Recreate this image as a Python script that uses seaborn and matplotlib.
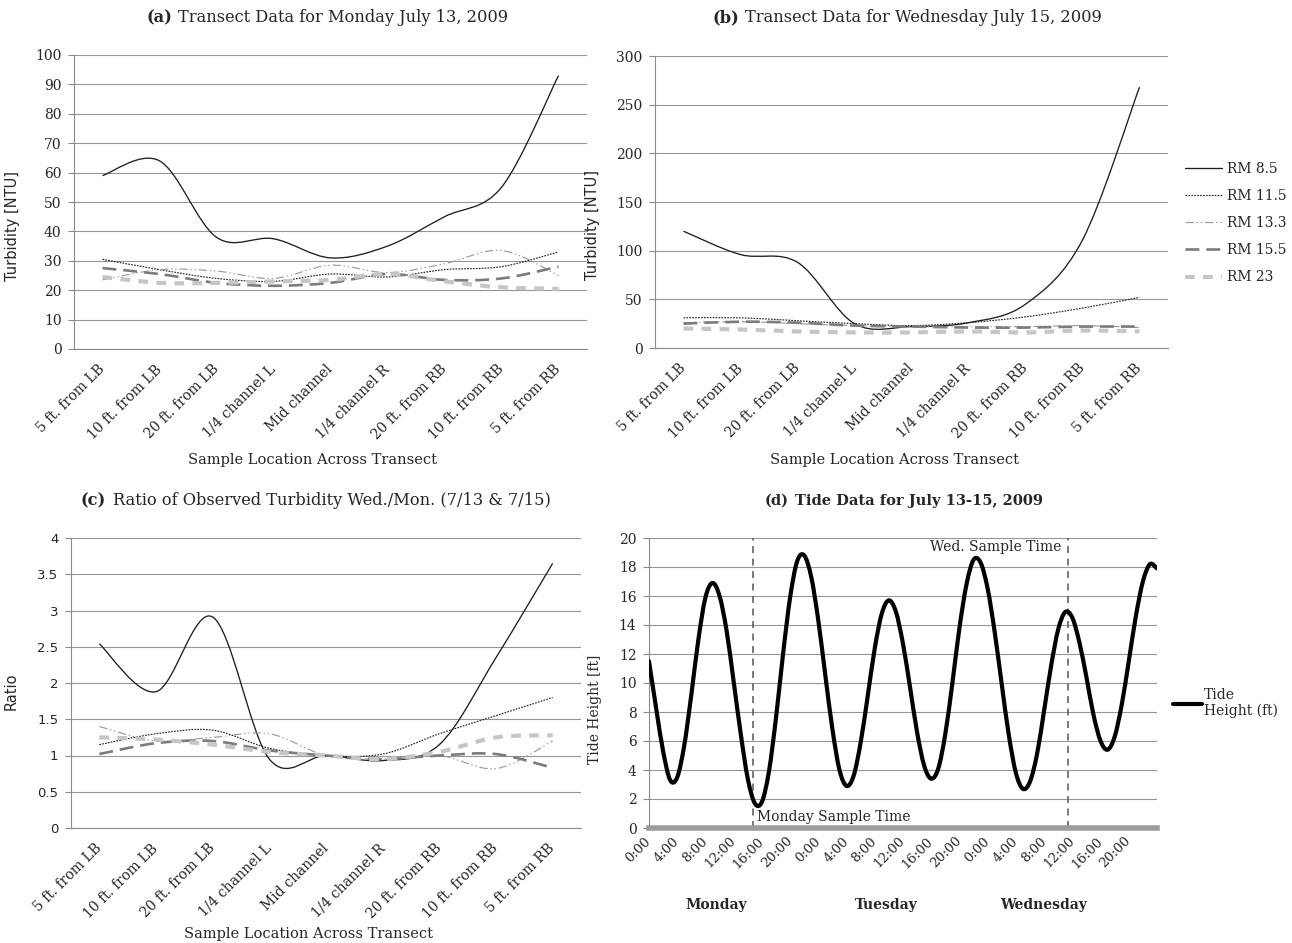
import matplotlib
matplotlib.use("Agg")
import matplotlib.pyplot as plt
import numpy as np
import seaborn as sns
from matplotlib.path import Path
from matplotlib.patches import PathPatch
from matplotlib.lines import Line2D

# ---- data ----
locations = ["5 ft. from LB", "10 ft. from LB", "20 ft. from LB", "1/4 channel L", "Mid channel",
             "1/4 channel R", "20 ft. from RB", "10 ft. from RB", "5 ft. from RB"]
series_names = ["RM 8.5", "RM 11.5", "RM 13.3", "RM 15.5", "RM 23"]

# (a) Monday July 13 turbidity [NTU]
mon_rm85 = [59, 64, 38, 37.5, 31, 35, 45, 55, 93]
mon_rm115 = [30.5, 27, 24, 23, 25.5, 24.5, 27, 28, 33]
mon_rm133 = [23.5, 27, 26.5, 24, 28.5, 26, 29, 33.5, 25]
mon_rm155 = [27.5, 25.5, 22.5, 21.5, 22.5, 25.5, 23.5, 24, 28]
mon_rm23 = [24.5, 22.5, 22.5, 23, 23.5, 25.5, 23, 21, 20.5]

# (b) Wednesday July 15 turbidity [NTU]
wed_rm85 = [120, 96, 88, 25, 22, 26, 45, 111, 268]
wed_rm115 = [31, 31, 28, 25, 23, 26, 32, 41, 52]
wed_rm133 = [26, 27, 25, 23, 22, 22, 22, 23, 21]
wed_rm155 = [25, 27, 26, 23, 22, 21, 21, 22, 22]
wed_rm23 = [20, 19, 17, 16, 16, 17, 16, 18, 17]

# (c) ratio Wed./Mon.
ratio_rm85 = [2.54, 1.88, 2.91, 0.95, 1.0, 0.93, 1.15, 2.35, 3.65]
ratio_rm115 = [1.15, 1.3, 1.35, 1.1, 1.0, 1.02, 1.3, 1.55, 1.8]
ratio_rm133 = [1.4, 1.2, 1.25, 1.3, 1.0, 0.95, 1.0, 0.82, 1.2]
ratio_rm155 = [1.02, 1.17, 1.2, 1.07, 1.0, 0.95, 1.0, 1.02, 0.83]
ratio_rm23 = [1.25, 1.22, 1.15, 1.05, 1.0, 0.95, 1.05, 1.25, 1.28]

# (d) tide height [ft], hourly from Monday 0:00
tide_hours = list(range(73))
tide_ft = [11.5, 8.3, 5.3, 3.3, 3.5, 5.7, 9.2, 13.0, 15.9, 16.9, 16.0, 13.6, 10.1, 6.5, 3.4, 1.7,
           1.8, 3.9, 7.6, 12.0, 15.9, 18.4, 18.8, 17.3, 14.3, 10.5, 6.8, 4.0, 2.9, 3.6, 5.9, 9.1,
           12.4, 14.8, 15.7, 14.9, 12.7, 9.7, 6.6, 4.3, 3.4, 4.1, 6.5, 10.0, 13.8, 16.8, 18.5, 18.3,
           16.5, 13.5, 9.9, 6.4, 3.8, 2.7, 3.2, 5.1, 8.1, 11.2, 13.7, 14.9, 14.5, 12.8, 10.4, 7.8,
           6.0, 5.4, 6.3, 8.5, 11.5, 14.6, 17.0, 18.2, 17.9]
time_labels = ["0:00", "4:00", "8:00", "12:00", "16:00", "20:00"] * 3
day_names = ["Monday", "Tuesday", "Wednesday"]
mon_sample_hr = 14.75
wed_sample_hr = 59.35

# ---- styling ----
sns.set_style("white")
plt.rcParams["font.family"] = ["DejaVu Serif"]
plt.rcParams["lines.scale_dashes"] = False
SANS = ["DejaVu Sans"]
GRID = "#969696"
AX = "#8a8a8a"

styles = {
    "RM 8.5": dict(color="#1e1e1e", lw=0.95, ls="-"),
    "RM 11.5": dict(color="#222222", lw=0.85, ls=(0, (1.2, 0.9))),
    "RM 13.3": dict(color="#9c9c9c", lw=0.85, ls=(0, (6, 2, 1, 2, 1, 2))),
    "RM 15.5": dict(color="#7c7c7c", lw=1.9, ls=(0, (10, 5))),
    "RM 23": dict(color="#c6c6c6", lw=3.0, ls=(0, (7, 6))),
}


def smooth_path(x, y):
    # Excel-style smoothed line as cubic Bezier segments
    x = np.asarray(x, float)
    y = np.asarray(y, float)
    n = len(x)
    verts = [(x[0], y[0])]
    codes = [Path.MOVETO]
    for i in range(n - 1):
        a = max(i - 1, 0)
        b = min(i + 2, n - 1)
        c1 = (x[i] + (x[i + 1] - x[a]) / 6, y[i] + (y[i + 1] - y[a]) / 6)
        c2 = (x[i + 1] - (x[b] - x[i]) / 6, y[i + 1] - (y[b] - y[i]) / 6)
        verts += [c1, c2, (x[i + 1], y[i + 1])]
        codes += [Path.CURVE4] * 3
    return Path(verts, codes)


def transect_panel(ax, data, ymax, ystep, yfam, yfs):
    xs = np.arange(len(locations))
    for name, vals in zip(series_names, data):
        st = styles[name]
        ax.add_patch(PathPatch(smooth_path(xs, vals), fill=False, edgecolor=st["color"],
                               lw=st["lw"], linestyle=st["ls"], capstyle="butt", zorder=3))
    ax.set_xlim(-0.5, len(locations) - 0.5)
    ax.set_ylim(0, ymax)
    ax.set_yticks(np.arange(0, ymax + ystep / 2, ystep))
    ax.set_yticklabels([("%g" % v) for v in np.arange(0, ymax + ystep / 2, ystep)],
                       family=yfam, fontsize=yfs)
    ax.yaxis.grid(True, color=GRID, lw=0.8)
    ax.xaxis.grid(False)
    ax.set_axisbelow(True)
    sns.despine(ax=ax)
    for s in ["left", "bottom"]:
        ax.spines[s].set_color(AX)
        ax.spines[s].set_linewidth(0.8)
    ax.set_xticks(xs)
    ax.set_xticklabels(locations, rotation=45, ha="right", va="center",
                       rotation_mode="anchor", fontsize=10)
    ax.set_xticks(np.arange(-0.5, len(locations), 1), minor=True)
    ax.tick_params(axis="x", which="major", length=0, pad=13)
    ax.tick_params(axis="x", which="minor", length=5, color=AX, width=0.8, direction="out")
    ax.tick_params(axis="y", length=4, color=AX, width=0.8, direction="out", pad=5, left=True)


fig = plt.figure(figsize=(12.92, 9.43), dpi=100)
W, H = 1292.0, 943.0


def px_axes(l, t, r, b):
    return fig.add_axes([l / W, 1 - b / H, (r - l) / W, (b - t) / H])


ax_a = px_axes(74, 55, 587, 349)
ax_b = px_axes(655, 56, 1168, 348)
ax_c = px_axes(71, 538, 581, 828)
ax_d = px_axes(649, 538, 1157, 828)

transect_panel(ax_a, [mon_rm85, mon_rm115, mon_rm133, mon_rm155, mon_rm23], 100, 10, "DejaVu Serif", 10)
transect_panel(ax_b, [wed_rm85, wed_rm115, wed_rm133, wed_rm155, wed_rm23], 300, 50, "DejaVu Serif", 10)
transect_panel(ax_c, [ratio_rm85, ratio_rm115, ratio_rm133, ratio_rm155, ratio_rm23], 4, 0.5, SANS, 9.5)

ax_a.set_ylabel("Turbidity [NTU]", family=SANS, fontsize=10.5)
ax_a.yaxis.set_label_coords(-0.105, 0.42)
ax_b.set_ylabel("Turbidity [NTU]", family=SANS, fontsize=10.5)
ax_b.yaxis.set_label_coords(-0.107, 0.42)
ax_c.set_ylabel("Ratio", family=SANS, fontsize=10.5)
ax_c.yaxis.set_label_coords(-0.103, 0.47)

fig.text(313 / W, 1 - 460 / H, "Sample Location Across Transect", ha="center", va="center", fontsize=10.5)
fig.text(895 / W, 1 - 460 / H, "Sample Location Across Transect", ha="center", va="center", fontsize=10.5)
fig.text(309 / W, 1 - 934 / H, "Sample Location Across Transect", ha="center", va="center", fontsize=10.5)

# legend for the transect lines
handles = [Line2D([], [], color=styles[n]["color"], lw=styles[n]["lw"], ls=styles[n]["ls"]) for n in series_names]
ax_b.legend(handles, series_names, loc="center left", bbox_to_anchor=(1185 / W, 1 - 223 / H),
            bbox_transform=fig.transFigure, frameon=False, fontsize=10, handlelength=2.65,
            handletextpad=0.4, labelspacing=0.95, borderpad=0, borderaxespad=0)

# ---- (d) tide ----
# seaborn places the series on the axes; the smoothed curve is drawn on top of it
sns.lineplot(x=tide_hours, y=tide_ft, ax=ax_d, color="black", lw=0, legend=False)
ax_d.add_patch(PathPatch(smooth_path(tide_hours, tide_ft), fill=False, edgecolor="black",
                         lw=3.0, capstyle="round", joinstyle="round", zorder=4))
ax_d.set_xlim(0, 72)
ax_d.set_ylim(0, 20)
ax_d.set_yticks(np.arange(0, 21, 2))
ax_d.set_yticklabels([str(v) for v in range(0, 21, 2)], fontsize=10)
ax_d.set_xticks(np.arange(0, 72, 4))
ax_d.set_xticklabels(time_labels, rotation=45, ha="right", va="center", rotation_mode="anchor",
                     fontsize=9.5)
ax_d.tick_params(axis="x", length=0, pad=8)
ax_d.tick_params(axis="y", length=4, color=AX, width=0.8, direction="out", pad=5, left=True)
ax_d.yaxis.grid(True, color=GRID, lw=0.8)
ax_d.xaxis.grid(False)
ax_d.set_axisbelow(True)
sns.despine(ax=ax_d)
ax_d.spines["left"].set_color(AX)
ax_d.spines["left"].set_linewidth(0.8)
ax_d.spines["bottom"].set_color("#9c9c9c")
ax_d.spines["bottom"].set_linewidth(4)
ax_d.set_xlabel("")
ax_d.set_ylabel("Tide Height [ft]", fontsize=10)
ax_d.yaxis.set_label_coords(-0.092, 0.41)

for hr in [mon_sample_hr, wed_sample_hr]:
    ax_d.axvline(hr, color="#555555", lw=1.1, ls=(0, (5, 4)), zorder=2)
ax_d.text(mon_sample_hr + 0.6, 0.75, "Monday Sample Time", ha="left", va="center", fontsize=10)
ax_d.text(wed_sample_hr - 0.9, 19.4, "Wed. Sample Time", ha="right", va="center", fontsize=10)

for hr, name in zip([9.5, 33.7, 56.0], day_names):
    ax_d.text(hr, -0.265, name, ha="center", va="center", fontsize=10, fontweight="bold",
              transform=ax_d.get_xaxis_transform())

tide_handle = Line2D([], [], color="black", lw=3.0)
ax_d.legend([tide_handle], ["Tide\nHeight (ft)"], loc="center left",
            bbox_to_anchor=(1173 / W, 1 - 703 / H), bbox_transform=fig.transFigure,
            frameon=False, fontsize=10, handlelength=2.1, handletextpad=0.1, borderpad=0,
            borderaxespad=0)

# ---- titles ----
def panel_title(xl, xr, y, tag, rest, size, bold_all=False):
    fig.text(xl / W, 1 - y / H, tag, ha="right", va="center", fontsize=size, fontweight="bold")
    fig.text(xr / W, 1 - y / H, rest, ha="left", va="center", fontsize=size,
             fontweight="bold" if bold_all else "normal")


panel_title(172, 178, 18, "(a)", "Transect Data for Monday July 13, 2009", 11.7)
panel_title(739, 745, 18, "(b)", "Transect Data for Wednesday July 15, 2009", 11.7)
panel_title(106, 113, 501, "(c)", "Ratio of Observed Turbidity Wed./Mon. (7/13 & 7/15)", 11.7)
panel_title(789, 795, 501, "(d)", "Tide Data for July 13-15, 2009", 10.5, bold_all=True)

fig.savefig("out.png", dpi=100)
